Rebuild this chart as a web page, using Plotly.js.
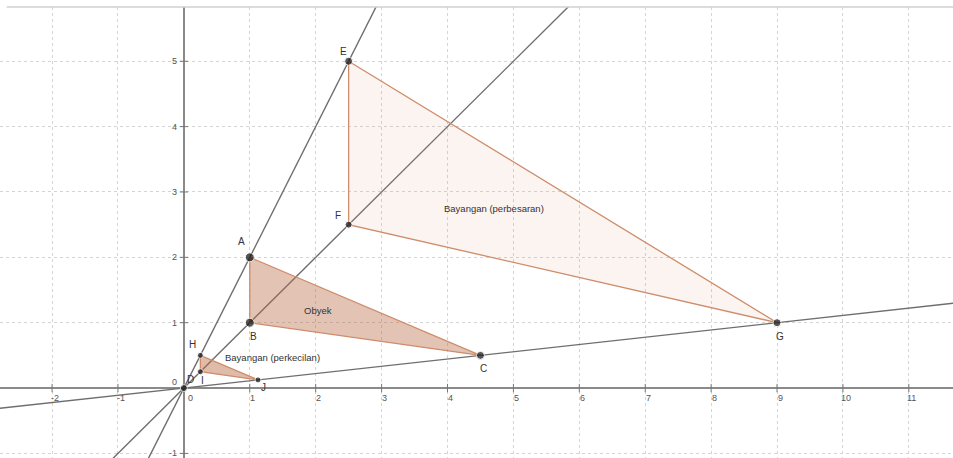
<!DOCTYPE html>
<html>
<head>
<meta charset="utf-8">
<script src="https://cdn.plot.ly/plotly-3.0.1.min.js"></script>
<style>html,body{margin:0;padding:0;background:#fff;}#chart{width:953px;height:458px;}</style>
</head>
<body>
<div id="chart"></div>
<script>
// ---- data ----
const pointNames = ["A","B","C","D","E","F","G","H","I","J"];
const pointX = [1, 1, 4.5, 0, 2.5, 2.5, 9, 0.25, 0.25, 1.125];
const pointY = [2, 1, 0.5, 0, 5, 2.5, 1, 0.5, 0.25, 0.125];

const objX = [1, 1, 4.5];          // A, B, C
const objY = [2, 1, 0.5];
const bigX = [2.5, 2.5, 9];        // E, F, G
const bigY = [5, 2.5, 1];
const smallX = [0.25, 0.25, 1.125]; // H, I, J
const smallY = [0.5, 0.25, 0.125];

const xTicks = [-2,-1,0,1,2,3,4,5,6,7,8,9,10,11];
const yTicks = [-1,1,2,3,4,5];

const regionLabels = ["Obyek", "Bayangan (perbesaran)", "Bayangan (perkecilan)"];
const regionX = [2.04, 4.71, 1.34];
const regionY = [1.19, 2.75, 0.47];

// ---- styling ----
const edge = "rgb(206,140,106)";
const traces = [];

// rays from centre D through A, B, C
const rayIdx = [0, 1, 2];
rayIdx.forEach(i => {
  const t = [-20, 20];
  traces.push({
    x: t.map(k => k * pointX[i]), y: t.map(k => k * pointY[i]),
    mode: "lines", line: {color: "#6e6e6e", width: 1.4},
    hoverinfo: "skip", showlegend: false
  });
});

function tri(xs, ys, fill) {
  return {
    x: xs.concat([xs[0]]), y: ys.concat([ys[0]]),
    mode: "lines", fill: "toself", fillcolor: fill,
    line: {color: edge, width: 1.3}, hoverinfo: "skip", showlegend: false
  };
}
traces.push(tri(bigX, bigY, "rgba(215,150,115,0.10)"));
traces.push(tri(objX, objY, "rgba(185,105,65,0.40)"));
traces.push(tri(smallX, smallY, "rgba(185,105,65,0.45)"));

// axis tick marks
traces.push({x: xTicks, y: xTicks.map(() => 0), mode: "markers",
  marker: {symbol: "line-ns", size: 6, line: {color: "#777", width: 1}},
  hoverinfo: "skip", showlegend: false});
traces.push({x: yTicks.map(() => 0), y: yTicks, mode: "markers",
  marker: {symbol: "line-ew", size: 6, line: {color: "#777", width: 1}},
  hoverinfo: "skip", showlegend: false});

// points
const sizes = {A:9,B:9,C:8,D:7,E:8,F:7,G:8,H:6,I:6,J:6};
traces.push({x: pointX, y: pointY, mode: "markers",
  marker: {color: "#111", size: pointNames.map(n => sizes[n])},
  hoverinfo: "skip", showlegend: false});

const labelShift = {A:[-8,16],B:[4,-14],C:[3,-13],D:[7,9],E:[-5,10],F:[-11,9],
  G:[3,-14],H:[-8,11],I:[2,-9],J:[5,-8]};

const annotations = [];
pointNames.forEach((n, i) => {
  annotations.push({x: pointX[i], y: pointY[i], text: n, showarrow: false,
    xshift: labelShift[n][0], yshift: labelShift[n][1],
    font: {family: "Liberation Sans, Arial", size: 10, color: "#333"}});
});
regionLabels.forEach((t, i) => {
  annotations.push({x: regionX[i], y: regionY[i], text: t, showarrow: false,
    font: {family: "Liberation Sans, Arial", size: 9.5, color: "#333"}});
});
xTicks.forEach(v => {
  annotations.push({x: v, y: 0, text: String(v), showarrow: false,
    xshift: v === 0 ? 7 : 3, yshift: -10,
    font: {family: "Liberation Sans, Arial", size: 9, color: "#555"}});
});
yTicks.concat([0]).forEach(v => {
  annotations.push({x: 0, y: v, text: String(v), showarrow: false,
    xanchor: "right", xshift: -5, yshift: v === 0 ? 6 : 0,
    font: {family: "Liberation Sans, Arial", size: 9, color: "#555"}});
});

const layout = {
  width: 953, height: 458,
  margin: {l: 0, r: 0, t: 7, b: 0},
  paper_bgcolor: "#fff", plot_bgcolor: "#fff",
  xaxis: {range: [-2.79, 11.67], dtick: 1, tick0: 0, showgrid: true,
    gridcolor: "#d4d4d4", griddash: "dot", gridwidth: 1,
    zeroline: true, zerolinecolor: "#8a8a8a", zerolinewidth: 2,
    showticklabels: false, ticks: "", fixedrange: true},
  yaxis: {range: [-1.07, 5.83], dtick: 1, tick0: 0, showgrid: true,
    gridcolor: "#d4d4d4", griddash: "3px,3px", gridwidth: 1,
    zeroline: true, zerolinecolor: "#8a8a8a", zerolinewidth: 2,
    showticklabels: false, ticks: "", fixedrange: true},
  shapes: [{type: "line", xref: "paper", yref: "paper", x0: 0.007, x1: 1, y0: 1, y1: 1,
    line: {color: "#d0d0d0", width: 1.5}}],
  annotations: annotations
};

Plotly.newPlot("chart", traces, layout, {displayModeBar: false, staticPlot: true});
</script>
</body>
</html>
